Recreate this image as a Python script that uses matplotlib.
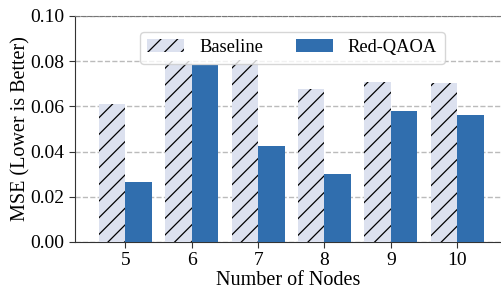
import matplotlib
matplotlib.use('Agg')
import matplotlib.pyplot as plt
import numpy as np

nodes = [5, 6, 7, 8, 9, 10]
baseline = [0.0611, 0.0803, 0.0805, 0.0678, 0.0709, 0.0705]
red_qaoa = [0.0266, 0.0784, 0.0425, 0.0301, 0.0580, 0.0563]

plt.rcParams['font.family'] = 'Liberation Serif'
plt.rcParams['hatch.linewidth'] = 0.9

fig = plt.figure(figsize=(5.01, 2.95), dpi=100)
ax = fig.add_axes([0.1497, 0.1797, 0.8503, 0.7661])

x = np.array(nodes)
w = 0.4
ax.bar(x - w / 2, baseline, w, color='#dce1ef', edgecolor='black', hatch='//',
       linewidth=0, label='Baseline', zorder=3)
ax.bar(x + w / 2, red_qaoa, w, color='#306eae', label='Red-QAOA', zorder=3)

ax.set_xlim(4.24, 10.66)
ax.set_ylim(0, 0.10)
ax.set_xticks(nodes)
ax.set_yticks([0, 0.02, 0.04, 0.06, 0.08, 0.10])
ax.set_yticklabels(['0.00', '0.02', '0.04', '0.06', '0.08', '0.10'])
ax.tick_params(labelsize=14, color='#333333', length=4)
ax.yaxis.grid(True, linestyle='--', color='#bbbbbb', linewidth=1.0, zorder=0)
ax.set_axisbelow(True)
for s in ['left', 'bottom']:
    ax.spines[s].set_color('#333333')
ax.spines['top'].set_color('#777777')
ax.spines['top'].set_linestyle((0, (4, 1.5)))
ax.spines['right'].set_visible(False)

ax.set_xlabel('Number of Nodes', fontsize=14.5, labelpad=1)
ax.set_ylabel('MSE (Lower is Better)', fontsize=14.5, labelpad=0)
ax.legend(loc='upper center', bbox_to_anchor=(0.51, 0.97), ncol=2, fontsize=13.3,
          columnspacing=1.8, handlelength=2.0, fancybox=True)

fig.savefig('out.png', dpi=100)
